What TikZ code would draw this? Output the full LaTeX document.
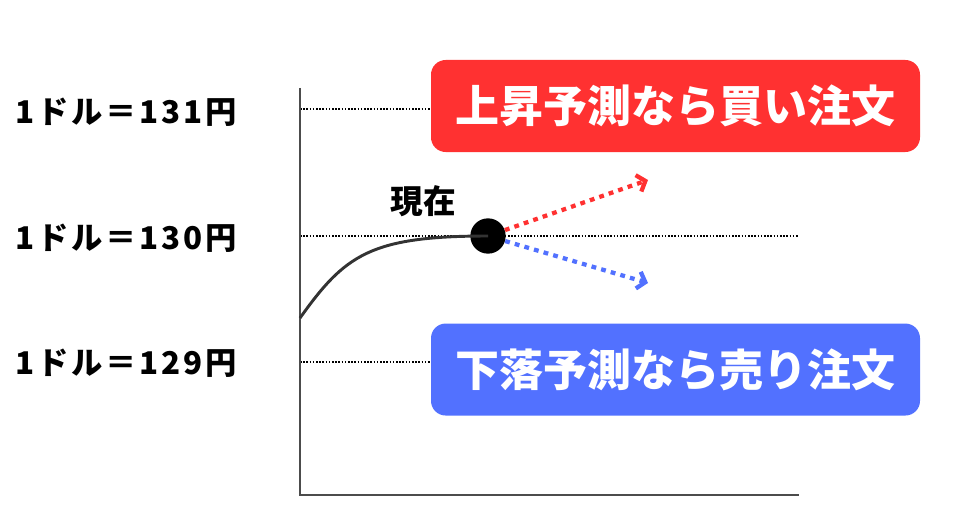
\documentclass[tikz,border=0pt]{standalone}
\usepackage{fontspec}
\setmainfont{Noto Sans CJK JP}
\usetikzlibrary{positioning,arrows.meta}
\definecolor{upred}{HTML}{FF3131}
\definecolor{downblue}{HTML}{5271FF}
\tikzset{
axis/.style = {line width=1.1pt, black!70},
level/.style = {line width=1.4pt, dash pattern=on 1.2pt off 1.2pt},
rate/.style = {anchor=west, inner sep=0pt, font=\bfseries\fontsize{23.5}{27}\selectfont\addfontfeature{LetterSpace=9}},
order/.style = {rectangle, rounded corners=11pt, minimum width=366.75pt, minimum height=69pt, inner sep=0pt, text=white, font=\bfseries\fontsize{33}{38}\selectfont},
nowdot/.style = {circle, fill=black, minimum size=26.5pt, inner sep=0pt},
price/.style = {line width=2.2pt, black!80},
guess/.style = {line width=3.2pt, dash pattern=on 3.6pt off 3.9pt, -{Straight Barb[length=5.5pt,width=13pt]}}
}
\begin{document}
\begin{tikzpicture}[x=0.75pt, y=-0.75pt]
    \useasboundingbox (0,0) rectangle (953,528);

    \coordinate (o) at (300,495);
    \coordinate (ytop) at (300,88);
    \coordinate (xend) at (799,495);
    \coordinate (l131) at (300,109);
    \coordinate (l130) at (300,236);
    \coordinate (l129) at (300,362);
    \coordinate (l130end) at (798,236);
    \coordinate (start) at (300,318);
    \coordinate (upend) at (648,180);
    \coordinate (downend) at (648,283);

    \node [order, fill=upred] (buy) at (675.5,106) {上昇予測なら買い注文};
    \node [order, fill=downblue, below=128.25pt of buy] (sell) {下落予測なら売り注文};

    \node [rate] (r131) at (15,112) {1ドル＝131円};
    \node [rate] (r130) at (15,238) {1ドル＝130円};
    \node [rate] (r129) at (15,363) {1ドル＝129円};

    \draw[level] (l131) -- (l131 -| buy.west);
    \draw[level] (l130) -- (l130end);
    \draw[level] (l129) -- (l129 -| sell.west);

    \draw[axis] (ytop) -- (o) -- (xend);

    \node [nowdot] (now) at (488,236) {};
    \node [font=\bfseries\fontsize{24.5}{28}\selectfont] (nowlabel) at (423,201) {現在};
    \draw[price] (start) .. controls (345,255) and (370,236) .. (now.center);

    \draw[guess, upred] (now) -- (upend);
    \draw[guess, downblue] (now) -- (downend);

\end{tikzpicture}
\end{document}
